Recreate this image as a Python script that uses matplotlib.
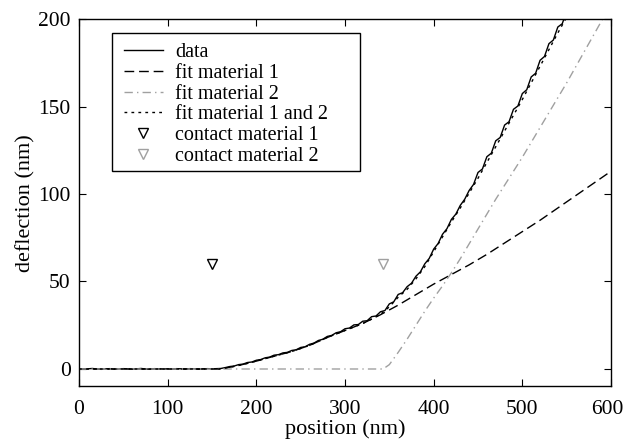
import matplotlib
matplotlib.use("Agg")
import matplotlib.pyplot as plt
from matplotlib.patches import Rectangle
from matplotlib.transforms import ScaledTranslation

plt.rcParams['font.family'] = ['Liberation Serif', 'DejaVu Serif']

# measured deflection data (nm)
data_x = list(range(0, 570, 5))
data_y = [0.2, -0.1, 0.1, 0.3, 0.0, -0.2, 0.1, 0.2, -0.1, 0.0,
          0.2, 0.1, -0.1, 0.1, 0.3, 0.0, -0.1, 0.2, 0.1, 0.0,
          0.1, -0.1, 0.2, 0.1, 0.0, 0.2, 0.1, -0.1, 0.1, 0.2,
          0.1, 0.2, 0.3, 0.8, 1.4, 1.7, 2.5, 2.8, 3.7, 4.0,
          5.0, 5.4, 6.4, 6.8, 7.9, 8.2, 9.2, 9.5, 10.6, 11.0,
          12.3, 12.7, 14.1, 14.8, 16.3, 17.0, 18.6, 19.2, 20.7, 21.3,
          23.0, 23.4, 25.2, 25.4, 27.3, 27.6, 29.9, 30.3, 32.7, 33.4,
          37.2, 38.4, 42.6, 43.6, 47.0, 49.0, 53.0, 55.5, 60.1, 63.2,
          68.5, 71.7, 77.0, 80.2, 85.5, 88.5, 93.5, 97.0, 102.0, 105.5,
          112.3, 114.3, 121.3, 123.3, 130.4, 132.3, 139.4, 141.3, 148.4, 150.3,
          157.4, 159.6, 166.9, 169.0, 176.4, 178.6, 185.9, 188.0, 195.4, 197.3,
          204.4, 206.3, 213.4, 215.0]

# fit material 1
fit1_x = [0, 160, 180, 200, 220, 240, 260, 280, 300, 320, 340, 360, 380, 400,
          420, 440, 460, 480, 500, 520, 540, 560, 580, 600]
fit1_y = [0, 0, 2.0, 4.5, 7.3, 10.0, 13.5, 18.0, 22.0, 26.0, 31.0, 36.5, 42.5,
          48.5, 54.0, 59.5, 65.5, 72.0, 78.5, 85.0, 92.0, 99.0, 106.0, 113.0]

# fit material 2
fit2_x = [0, 343, 350, 355, 360, 370, 380, 390, 400, 410, 420, 430, 440, 450,
          460, 470, 480, 490, 500, 510, 520, 530, 540, 550, 560, 570, 580, 590, 600]
fit2_y = [0, 0, 2.5, 6.0, 9.5, 17.0, 25.0, 33.0, 40.5, 47.5, 55.0, 63.0, 71.5,
          80.0, 88.5, 97.0, 105.0, 113.0, 121.0, 129.5, 138.0, 146.5, 155.0,
          163.5, 172.5, 181.5, 190.5, 199.5, 208.5]

# fit material 1 and 2
fit12_x = [0, 160, 170, 180, 190, 200, 210, 220, 230, 240, 250, 260, 270, 280,
           290, 300, 310, 320, 330, 340, 350, 360, 370, 380, 390, 400, 410, 420,
           430, 440, 450, 460, 470, 480, 490, 500, 510, 520, 530, 540, 550, 560]
fit12_y = [0, 0, 1.0, 2.0, 3.2, 4.5, 5.9, 7.3, 8.6, 10.0, 11.7, 13.5, 15.7, 18.0,
           20.0, 22.0, 24.0, 26.0, 28.5, 31.2, 35.5, 41.0, 45.5, 51.5, 58.5, 67.0,
           75.5, 84.0, 92.0, 100.5, 109.0, 118.0, 127.0, 136.0, 145.0, 154.0,
           163.5, 173.0, 182.5, 192.0, 201.0, 210.0]

contact1 = (150, 60)
contact2 = (343, 60)

gray = '#a0a0a0'

fig = plt.figure(figsize=(6.25, 4.41), dpi=100)
ax = fig.add_axes([0.1264, 0.1236, 0.8512, 0.8333])

ax.plot(data_x, data_y, color='black', lw=1.0, label='data')
ax.plot(fit1_x, fit1_y, color='black', lw=1.0, dashes=(7, 3.5), label='fit material 1')
ax.plot(fit2_x, fit2_y, color=gray, lw=1.0, dashes=(6, 3, 1, 3), label='fit material 2')
ax.plot(fit12_x, fit12_y, color='black', lw=1.0, dashes=(2, 3), label='fit material 1 and 2')
ax.plot([contact1[0]], [contact1[1]], linestyle='none', marker='v', markersize=7,
        markerfacecolor='none', markeredgecolor='black', markeredgewidth=1.0,
        label='contact material 1')
ax.plot([contact2[0]], [contact2[1]], linestyle='none', marker='v', markersize=7,
        markerfacecolor='none', markeredgecolor=gray, markeredgewidth=1.0,
        label='contact material 2')

ax.set_xlim(0, 600)
ax.set_ylim(-10, 200)
ax.set_xticks([0, 100, 200, 300, 400, 500, 600])
ax.set_yticks([0, 50, 100, 150, 200])
ax.tick_params(direction='in', top=True, right=True, length=5, width=0.8,
               labelsize=15.5)
ax.tick_params(axis='x', pad=10)
ax.tick_params(axis='y', pad=6)
for s in ax.spines.values():
    s.set_linewidth(1.0)
ax.set_xlabel('position (nm)', fontsize=16, labelpad=0)
ax.set_ylabel('deflection (nm)', fontsize=16, labelpad=2)

# keep the last x tick label inside the canvas
fig.canvas.draw()
last = ax.get_xticklabels()[-1]
last.set_transform(last.get_transform() + ScaledTranslation(-3 / 72, 0, fig.dpi_scale_trans))

# legend frame (drawn separately to match the asymmetric padding)
ax.add_patch(Rectangle((0.0615, 0.5872), 0.528 - 0.0615, 0.9619 - 0.5872,
                       transform=ax.transAxes, facecolor='white',
                       edgecolor='black', lw=1.0, zorder=4))
leg = ax.legend(loc='upper left', bbox_to_anchor=(0.0846, 0.9345), borderaxespad=0,
                fontsize=14.5, frameon=False, handlelength=1.92,
                handletextpad=0.61, labelspacing=0.08, borderpad=0)
leg.set_zorder(5)

fig.savefig('out.png', dpi=100)
